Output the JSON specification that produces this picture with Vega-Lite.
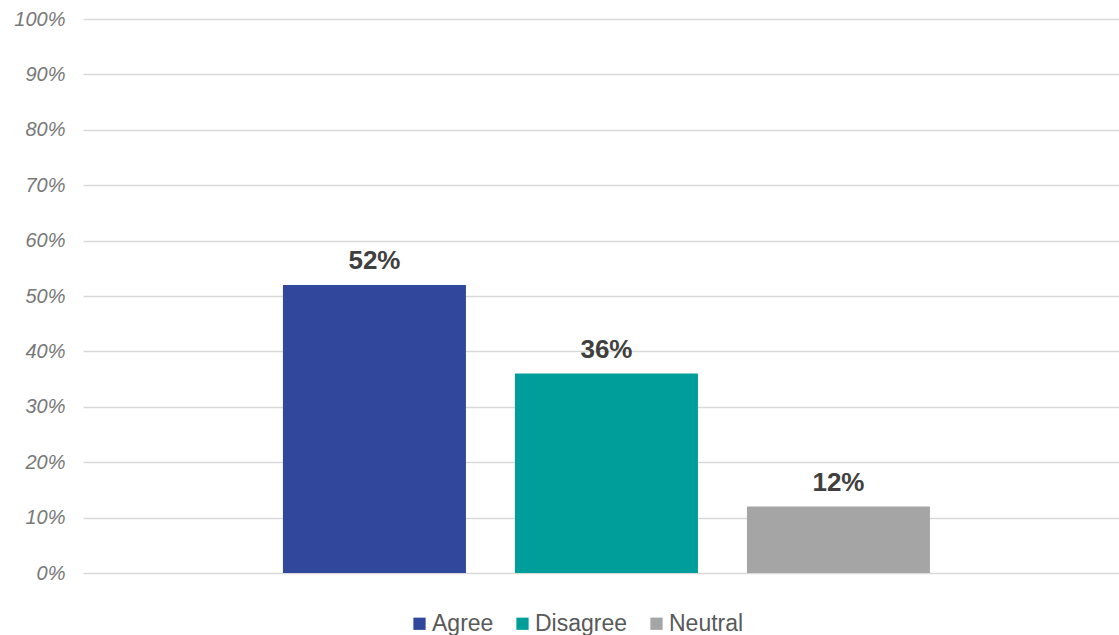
{
  "$schema": "https://vega.github.io/schema/vega-lite/v6.json",
  "width": 1036,
  "height": 554,
  "autosize": {"type": "none"},
  "padding": {"left": 83, "top": 19, "right": 0, "bottom": 62},
  "background": "white",
  "config": {
    "font": "Liberation Sans",
    "view": {"stroke": null}
  },
  "data": {
    "values": [
      {"response": "Agree", "share": 0.52},
      {"response": "Disagree", "share": 0.36},
      {"response": "Neutral", "share": 0.12}
    ]
  },
  "encoding": {
    "x": {
      "field": "response",
      "type": "nominal",
      "sort": ["Agree", "Disagree", "Neutral"],
      "axis": null,
      "scale": {"paddingInner": 0.2112, "paddingOuter": 0.8384, "align": 0.514}
    },
    "y": {
      "field": "share",
      "type": "quantitative",
      "scale": {"domain": [0, 1]},
      "axis": {
        "title": null,
        "format": ".0%",
        "values": [0, 0.1, 0.2, 0.3, 0.4, 0.5, 0.6, 0.7, 0.8, 0.9, 1],
        "labelOverlap": false,
        "labelFontSize": 20,
        "labelFontStyle": "italic",
        "labelColor": "#787878",
        "labelPadding": 18,
        "ticks": false,
        "domain": false,
        "grid": true,
        "gridColor": "#d9d9d9",
        "gridWidth": 1.4
      }
    }
  },
  "layer": [
    {
      "mark": {"type": "bar"},
      "encoding": {
        "color": {
          "field": "response",
          "type": "nominal",
          "sort": ["Agree", "Disagree", "Neutral"],
          "scale": {"domain": ["Agree", "Disagree", "Neutral"], "range": ["#30479B", "#009E9A", "#A5A5A5"]},
          "legend": {
            "title": null,
            "orient": "none",
            "direction": "horizontal",
            "legendX": 325,
            "legendY": 593,
            "symbolType": "square",
            "symbolSize": 150,
            "symbolStrokeWidth": 0,
            "labelFontSize": 23,
            "labelColor": "#595959",
            "labelOffset": 1,
            "columnPadding": 17,
            "padding": 0
          }
        }
      }
    },
    {
      "mark": {"type": "text", "baseline": "alphabetic", "dy": -16, "fontSize": 26, "fontWeight": "bold", "color": "#404040"},
      "encoding": {
        "text": {"field": "share", "type": "quantitative", "format": ".0%"}
      }
    }
  ]
}
